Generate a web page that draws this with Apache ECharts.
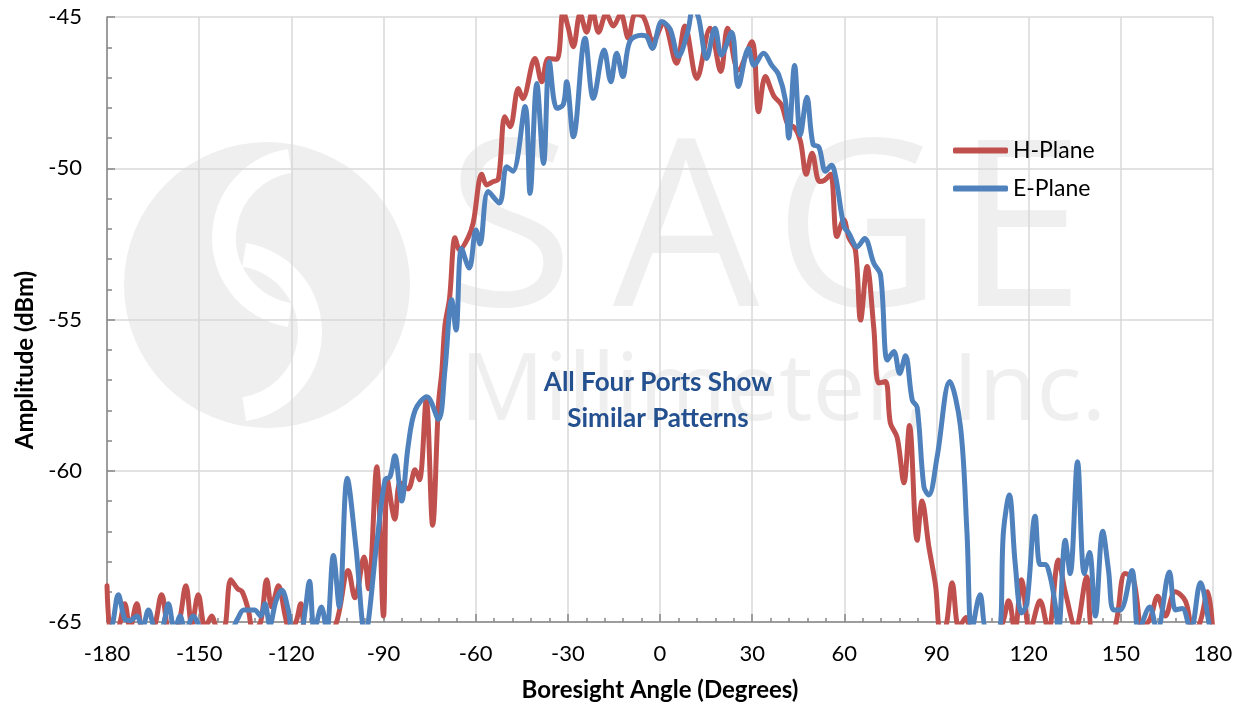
<!DOCTYPE html>
<html>
<head>
<meta charset="utf-8">
<script src="https://cdn.jsdelivr.net/npm/echarts@6/dist/echarts.min.js"></script>
<style>
  html, body { margin: 0; padding: 0; background: #ffffff; }
  #chart { width: 1241px; height: 710px; }
</style>
</head>
<body>
<div id="chart"></div>
<script>
// ---- Data ----
const seriesNames = ['H-Plane', 'E-Plane'];

const hAngles = [-180, -178.5, -176.5, -174.2, -172.5, -170.3, -168, -165, -162.2, -159.5, -157, -154.3, -152.4, -150.3, -148, -145.9, -144, -142, -139.7, -137.5, -136, -134, -132.4, -130, -128, -126.4, -124.2, -122, -120.5, -118.5, -116.9, -115, -110, -106, -101.5, -99.3, -96.3, -94.9, -92.2, -90, -88.7, -86.3, -84.6, -82, -79.7, -78.3, -76.1, -74, -72.1, -71, -70, -68.5, -66.7, -65.2, -62.5, -60.8, -58, -56.4, -54.5, -52.6, -50.5, -48.8, -46.1, -44.7, -40.7, -38.5, -36.3, -33.6, -31.5, -30, -28.2, -26, -23.9, -22, -20, -17.5, -15.2, -12.8, -10.3, -8, -5.4, -2.2, 1.1, 5.4, 8.1, 12, 16.3, 19.8, 22, 25.5, 29.9, 32.1, 34.3, 37, 39.5, 41.9, 43.5, 45.7, 47.6, 49.5, 51.9, 53.5, 55.5, 57.6, 59.8, 61.5, 63.6, 65.3, 67.4, 69.6, 71.2, 73.4, 75, 77.2, 79.4, 81.2, 83.7, 85.3, 87.5, 89.7, 91.3, 93, 95.1, 97.3, 99.6, 101.5, 106, 110.7, 113.5, 115.5, 117.7, 120.4, 123.7, 126.4, 129.7, 131.9, 135.3, 138.9, 141, 145, 148, 151.4, 154.1, 157, 159.5, 162, 164.5, 167.7, 171, 173.5, 175.5, 178.3, 180];
const hValues = [-63.8, -65.5, -65.3, -64.4, -65.2, -64.4, -65.4, -65.3, -64.1, -65.3, -65.2, -63.8, -65.1, -64.1, -65.2, -64.8, -65.2, -65.2, -63.6, -63.9, -64.0, -64.6, -65.3, -65.0, -63.6, -64.5, -63.8, -64.8, -65.3, -65.0, -64.4, -65.3, -65.3, -65.2, -63.3, -64.2, -62.85, -63.9, -59.87, -64.8, -60.3, -61.6, -60.4, -60.6, -59.97, -60.3, -57.66, -61.8, -57.8, -56.7, -55.2, -54.3, -52.3, -52.7, -52.3, -51.8, -50.2, -50.55, -50.45, -50.35, -48.3, -48.63, -47.36, -47.7, -46.37, -47.14, -46.37, -46.4, -44.8, -45.3, -45.98, -44.9, -45.5, -44.8, -45.5, -44.9, -45.3, -44.9, -45.7, -44.9, -45.0, -45.8, -45.2, -46.53, -45.3, -47.03, -45.37, -46.8, -45.37, -46.75, -45.82, -48.13, -46.97, -47.6, -47.9, -48.6, -48.63, -49.1, -50.2, -49.5, -50.44, -50.4, -50.2, -52.26, -51.7, -52.3, -52.7, -55.02, -53.25, -55.3, -57.1, -57.05, -58.43, -58.9, -60.4, -58.5, -62.3, -61.0, -62.5, -63.8, -65.3, -65.2, -63.7, -65.2, -64.85, -65.3, -65.3, -65.2, -64.3, -65.3, -63.6, -65.3, -64.3, -65.3, -62.95, -64.0, -65.2, -63.5, -65.3, -65.3, -65.2, -63.4, -63.6, -65.2, -64.9, -64.15, -64.8, -64.0, -64.3, -65.2, -65.1, -64.0, -65.4];

const eAngles = [-180, -178.5, -176.3, -174.2, -172.5, -170.3, -168.5, -166.5, -164, -162, -160, -158, -156.2, -154.5, -151.9, -149.5, -147, -143, -140, -137.5, -135.5, -132, -130, -128.6, -127, -125, -123.1, -121, -119.5, -117, -115.5, -114.1, -112.5, -110.2, -108.5, -106.3, -104.4, -101.8, -99, -96, -92.2, -89.5, -87.9, -86.3, -84.1, -82, -79.7, -75.9, -72.1, -70, -67.8, -66.4, -64.6, -62.1, -59.9, -58.6, -55.9, -52.3, -49.9, -47.9, -43.9, -42.3, -40.1, -37.9, -36, -33.6, -31.5, -30.4, -28.2, -24.4, -21.7, -18.2, -16, -14.1, -12.1, -9.8, -6, -4.3, -2.5, 0.6, 3.3, 6, 9, 10.8, 12.5, 15.2, 17.9, 20, 23.3, 25.5, 28.8, 30.6, 33.7, 36.4, 38.6, 40.8, 41.9, 43.8, 45.7, 47.8, 49.8, 51.7, 53.9, 55.8, 57.2, 59.9, 61.5, 64.2, 66.6, 69.6, 71.8, 74, 76.1, 78, 79.9, 82.1, 83.7, 85.9, 87.5, 90.2, 94.3, 97.8, 99.9, 101.5, 104.2, 106.5, 110.1, 111.8, 113.7, 115.6, 117.7, 119.4, 122.1, 123.7, 125.3, 127, 128.6, 129.7, 131.9, 133.5, 135.9, 138.1, 139.8, 141.7, 144.1, 146, 147.6, 149.8, 153.6, 155.8, 159.4, 161.8, 165.8, 167.8, 170, 172.7, 175.9, 179.2, 180];
const eValues = [-65.3, -65.2, -64.1, -64.9, -64.95, -64.8, -65.2, -64.6, -65.3, -65.2, -64.4, -65.3, -64.8, -65.3, -64.8, -65.2, -65.3, -65.3, -65.3, -64.9, -64.6, -64.6, -64.8, -64.4, -65.1, -64.3, -63.95, -64.6, -65.3, -65.3, -64.6, -63.65, -65.3, -64.5, -65.3, -62.8, -64.5, -60.25, -62.5, -65.4, -62.4, -60.3, -60.2, -59.5, -61.0, -59.2, -58.0, -57.55, -58.3, -56.67, -54.35, -55.35, -52.65, -53.3, -52.04, -52.5, -50.77, -51.15, -49.95, -50.1, -47.96, -50.83, -47.2, -49.84, -46.48, -48.02, -47.9, -47.14, -48.96, -45.7, -47.69, -46.09, -47.14, -46.2, -46.97, -45.8, -45.6, -45.65, -46.04, -45.15, -45.4, -46.3, -45.5, -44.7, -45.0, -46.37, -45.37, -46.26, -45.5, -47.3, -46.04, -46.6, -46.2, -46.6, -46.9, -47.74, -49.0, -46.6, -48.9, -47.65, -49.2, -49.3, -50.1, -49.9, -50.3, -51.93, -52.15, -52.6, -52.32, -53.14, -53.53, -56.34, -56.06, -56.78, -56.2, -57.66, -57.9, -60.53, -60.8, -59.54, -57.05, -58.54, -62.0, -65.3, -64.1, -65.3, -65.3, -62.0, -60.8, -63.05, -64.7, -64.4, -61.5, -63.1, -63.1, -63.5, -64.4, -65.3, -62.3, -63.4, -59.7, -63.4, -62.7, -64.8, -62.0, -63.3, -64.6, -64.6, -63.3, -65.3, -64.5, -65.3, -63.35, -64.6, -64.55, -65.3, -63.7, -65.3, -65.4];

const xAxisTitle = 'Boresight Angle (Degrees)';
const yAxisTitle = 'Amplitude (dBm)';
const noteLines = ['All Four Ports Show', 'Similar Patterns'];
const watermarkLetters = ['S', 'A', 'G', 'E'];
const watermarkBottom = 'Millimeter, Inc.';

function pairs(xs, ys) { return xs.map((x, i) => [x, ys[i]]); }

const FONT = 'Lato, "Open Sans", "Liberation Sans", sans-serif';
const WM = '#efefef';
const WMFONT = '"Open Sans", Lato, sans-serif';

// letter centre positions of the watermark word (layout only)
const wmLetterX = [510, 686, 858, 1020];

const graphics = [
  { type: 'circle', z: -10, shape: { cx: 267, cy: 285, r: 143 }, style: { fill: WM } },
  { type: 'arc', z: -9, shape: { cx: 302, cy: 238, r: 78, startAngle: Math.PI * 0.55, endAngle: Math.PI * 1.45 }, style: { stroke: '#ffffff', lineWidth: 24, fill: null } },
  { type: 'arc', z: -9, shape: { cx: 232, cy: 332, r: 78, startAngle: -Math.PI * 0.45, endAngle: Math.PI * 0.45 }, style: { stroke: '#ffffff', lineWidth: 24, fill: null } },
  { type: 'text', z: -10, x: 783, y: 393, style: { text: watermarkBottom, fill: WM, font: '400 94px ' + WMFONT, align: 'center', verticalAlign: 'middle' } },
  { type: 'text', z: 10, x: 658, y: 383, style: { text: noteLines[0], fill: '#24508f', font: 'bold 26px ' + FONT, align: 'center', verticalAlign: 'middle' } },
  { type: 'text', z: 10, x: 658, y: 419, style: { text: noteLines[1], fill: '#24508f', font: 'bold 26px ' + FONT, align: 'center', verticalAlign: 'middle' } }
];
watermarkLetters.forEach((ch, i) => {
  graphics.push({ type: 'text', z: -10, x: wmLetterX[i], y: 240, style: { text: ch, fill: WM, font: '400 232px ' + WMFONT, align: 'center', verticalAlign: 'middle' } });
});

const chart = echarts.init(document.getElementById('chart'), null, { renderer: 'canvas' });

const option = {
  animation: false,
  backgroundColor: '#ffffff',
  grid: { left: 107, right: 28, top: 17, bottom: 88, containLabel: false },
  legend: {
    orient: 'vertical',
    left: 948,
    top: 134,
    itemWidth: 55,
    itemHeight: 6,
    itemGap: 15,
    icon: 'roundRect',
    textStyle: { fontFamily: FONT, fontSize: 23, color: '#000' },
    data: seriesNames
  },
  xAxis: {
    type: 'value',
    min: -180, max: 180, interval: 30,
    name: xAxisTitle,
    nameLocation: 'middle',
    nameGap: 56,
    nameTextStyle: { fontFamily: FONT, fontSize: 24, fontWeight: 'bold', color: '#000' },
    axisLine: { show: true, onZero: false, lineStyle: { color: '#868686', width: 1.5 } },
    axisTick: { show: true, inside: true, length: 8, lineStyle: { color: '#868686', width: 1.5 } },
    minorTick: { show: true, splitNumber: 5, length: 4, lineStyle: { color: '#868686', width: 1.5 } },
    axisLabel: { fontFamily: FONT, fontSize: 22, color: '#000', margin: 21 },
    splitLine: { show: true, lineStyle: { color: '#d9d9d9', width: 1.5 } }
  },
  yAxis: {
    type: 'value',
    min: -65, max: -45, interval: 5,
    name: yAxisTitle,
    nameLocation: 'middle',
    nameGap: 68,
    nameRotate: 90,
    nameTextStyle: { fontFamily: FONT, fontSize: 24, fontWeight: 'bold', color: '#000', padding: [0, 81, 0, 0] },
    axisLine: { show: true, onZero: false, lineStyle: { color: '#868686', width: 1.5 } },
    axisTick: { show: true, inside: true, length: 8, lineStyle: { color: '#868686', width: 1.5 } },
    minorTick: { show: true, splitNumber: 5, length: 5, lineStyle: { color: '#868686', width: 1.5 } },
    axisLabel: { fontFamily: FONT, fontSize: 22, color: '#000', margin: 25 },
    splitLine: { show: true, lineStyle: { color: '#d9d9d9', width: 1.5 } }
  },
  graphic: graphics,
  series: [
    {
      name: seriesNames[0], type: 'line', data: pairs(hAngles, hValues),
      showSymbol: false, symbol: 'none', smooth: 0.35, clip: true,
      itemStyle: { color: '#c0504d' },
      lineStyle: { color: '#c0504d', width: 5, cap: 'round', join: 'round' }
    },
    {
      name: seriesNames[1], type: 'line', data: pairs(eAngles, eValues),
      showSymbol: false, symbol: 'none', smooth: 0.35, clip: true,
      itemStyle: { color: '#4f81bd' },
      lineStyle: { color: '#4f81bd', width: 5, cap: 'round', join: 'round' }
    }
  ]
};

chart.setOption(option);
</script>
</body>
</html>
